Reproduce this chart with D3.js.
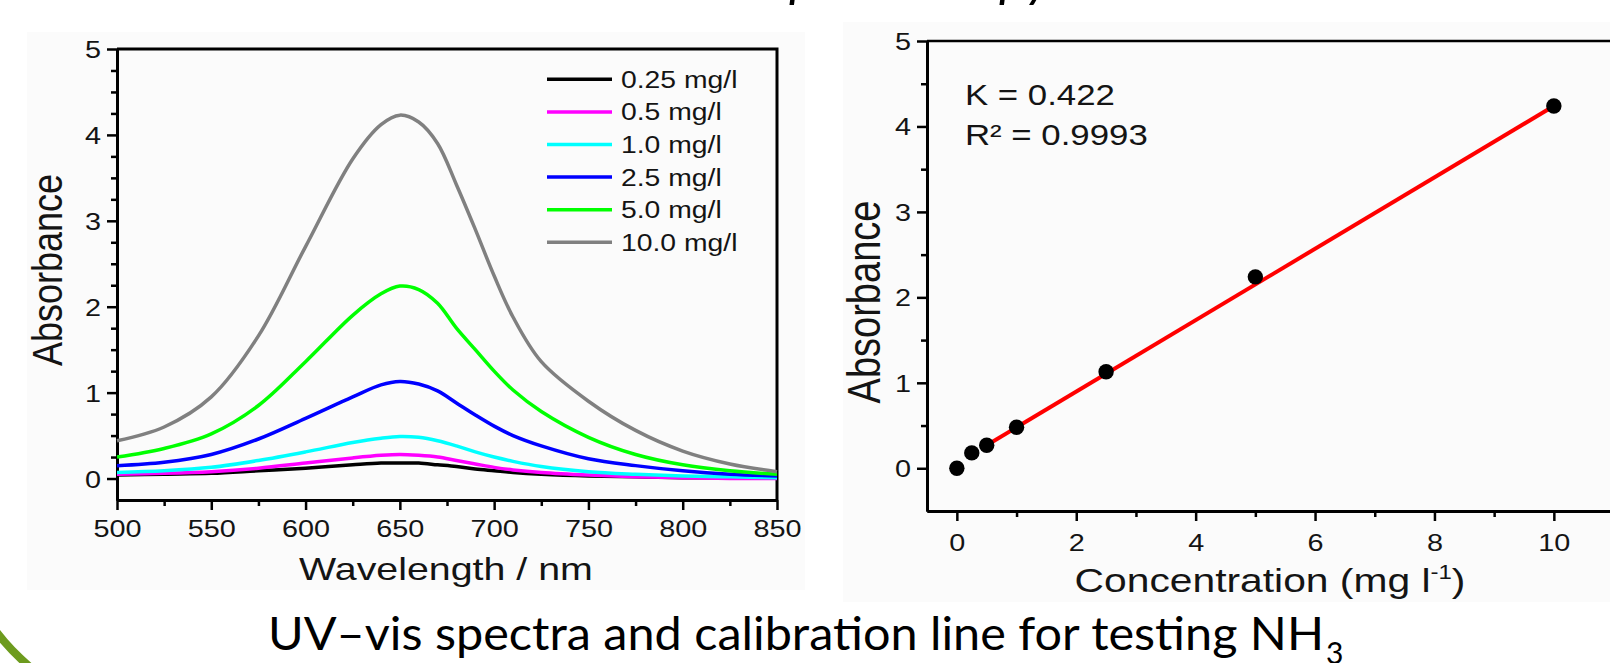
<!DOCTYPE html>
<html>
<head>
<meta charset="utf-8">
<script src="https://cdn.jsdelivr.net/npm/d3@7"></script>
<style>
  body { margin: 0; background: white; }
  svg { display: block; }
</style>
</head>
<body>
<script>
// ---- data ----
const wavelengths = [500, 525, 550, 575, 600, 625, 640, 650, 660, 670, 680, 690, 700, 710, 725, 750, 775, 800, 825, 850]
const seriesLabels = ['0.25 mg/l', '0.5 mg/l', '1.0 mg/l', '2.5 mg/l', '5.0 mg/l', '10.0 mg/l']
const abs025 = [0.04, 0.05, 0.06, 0.09, 0.12, 0.16, 0.18, 0.18, 0.18, 0.16, 0.14, 0.11, 0.09, 0.07, 0.05, 0.03, 0.02, 0.01, 0.01, 0.01]
const abs05 = [0.05, 0.06, 0.08, 0.12, 0.18, 0.24, 0.27, 0.28, 0.27, 0.25, 0.21, 0.17, 0.13, 0.10, 0.07, 0.04, 0.02, 0.01, 0.00, 0.00]
const abs10 = [0.07, 0.09, 0.13, 0.21, 0.31, 0.42, 0.47, 0.49, 0.48, 0.44, 0.38, 0.31, 0.25, 0.20, 0.14, 0.08, 0.05, 0.03, 0.02, 0.01]
const abs25 = [0.15, 0.19, 0.28, 0.46, 0.70, 0.95, 1.09, 1.13, 1.10, 1.02, 0.88, 0.74, 0.61, 0.50, 0.38, 0.23, 0.15, 0.09, 0.05, 0.03]
const abs50 = [0.25, 0.35, 0.52, 0.85, 1.36, 1.90, 2.15, 2.24, 2.20, 2.04, 1.75, 1.50, 1.25, 1.03, 0.78, 0.48, 0.28, 0.16, 0.09, 0.05]
const abs100 = [0.44, 0.60, 0.95, 1.66, 2.70, 3.72, 4.12, 4.23, 4.15, 3.90, 3.42, 2.90, 2.36, 1.88, 1.36, 0.90, 0.56, 0.32, 0.17, 0.08]

const calConc = [0, 0.25, 0.5, 1.0, 2.5, 5.0, 10.0]
const calAbs = [0, 0.18, 0.27, 0.48, 1.13, 2.24, 4.24]
const fitConc = [0.5, 10]
const fitAbs = [0.27, 4.24]
const fitK = '0.422'
const fitR2 = '0.9993'

const leftXTicks = [500, 550, 600, 650, 700, 750, 800, 850]
const leftXMinor = [525, 575, 625, 675, 725, 775, 825]
const leftYTicks = [0, 1, 2, 3, 4, 5]
const leftYMinor = [0.25, 0.5, 0.75, 1.25, 1.5, 1.75, 2.25, 2.5, 2.75, 3.25, 3.5, 3.75, 4.25, 4.5, 4.75]
const rightXTicks = [0, 2, 4, 6, 8, 10]
const rightXMinor = [1, 3, 5, 7, 9]
const rightYTicks = [0, 1, 2, 3, 4, 5]
const rightYMinor = [0.5, 1.5, 2.5, 3.5, 4.5]

// ---- styles ----
const seriesColors = ['#000000', '#ff00ff', '#00ffff', '#0000ff', '#00ff00', '#808080']
const fontFamily = "'Liberation Sans', Arial, sans-serif"
const textColor = '#141414'
const stretch = 1.2

let svgContainer = d3.select('body').append('svg')
                    .attr('width', 1610)
                    .attr('height', 663)

svgContainer.append('rect').attr('width', '100%').attr('height', '100%').attr('fill', 'white')

// faint backgrounds of the two pasted figures
svgContainer.append('rect').attr('x', 27).attr('y', 32).attr('width', 778).attr('height', 558).attr('fill', '#fbfbfb')
svgContainer.append('rect').attr('x', 843).attr('y', 22).attr('width', 767).attr('height', 580).attr('fill', '#fbfbfb')

function label(parent, x, y, str, size, anchor, sx, rot) {
    let t = parent.append('text')
                .attr('transform', `translate(${x},${y}) scale(${sx},1)` + (rot ? ` rotate(${rot})` : ''))
                .attr('text-anchor', anchor)
                .attr('font-family', fontFamily)
                .attr('font-size', size + 'px')
                .attr('fill', textColor)
    if (str !== null) t.text(str)
    return t
}

function axisPair(translate, makeAxis, scale, major, minor, labelShift) {
    let gMinor = svgContainer.append('g').attr('transform', translate)
    gMinor.call(makeAxis(scale).tickValues(minor).tickSize(6).tickSizeOuter(0).tickFormat(''))
    let gMajor = svgContainer.append('g').attr('transform', translate)
    gMajor.call(makeAxis(scale).tickValues(major).tickSize(10).tickSizeOuter(0).tickFormat(d3.format('d')))
    for (let g of [gMinor, gMajor]) {
        g.select('.domain').attr('stroke', '#000').attr('stroke-width', 3)
        g.selectAll('.tick line').attr('stroke', '#000').attr('stroke-width', 2.5)
    }
    gMajor.selectAll('.tick text')
          .attr('x', null).attr('y', null).attr('dy', null)
          .attr('transform', `translate(${labelShift[0]},${labelShift[1]}) scale(${stretch},1)`)
          .attr('text-anchor', labelShift[2])
          .attr('font-family', fontFamily)
          .attr('font-size', '24px')
          .attr('fill', textColor)
}

drawSpectra()
drawCalibration()
drawCaption()

function drawSpectra() {
    let x = d3.scaleLinear().domain([500, 850]).range([117, 777])
    let y = d3.scaleLinear().domain([-0.25, 5]).range([500, 49])

    svgContainer.append('path')
                .attr('d', `M${x(500)},${y(5)}H${x(850)}V${y(-0.25)}`)
                .attr('fill', 'none')
                .attr('stroke', '#000')
                .attr('stroke-width', 3)

    axisPair(`translate(0,${y(-0.25)})`, d3.axisBottom, x, leftXTicks, leftXMinor, [0, 37, 'middle'])
    axisPair(`translate(${x(500)},0)`, d3.axisLeft, y, leftYTicks, leftYMinor, [-16, 8.5, 'end'])

    let series = [abs025, abs05, abs10, abs25, abs50, abs100]
    let line = d3.line()
                 .x((d, i) => x(wavelengths[i]))
                 .y(d => y(d))
                 .curve(d3.curveCatmullRom.alpha(0.5))

    series.forEach((values, i) => {
        svgContainer.append('path')
                    .attr('d', line(values))
                    .attr('fill', 'none')
                    .attr('stroke', seriesColors[i])
                    .attr('stroke-width', 3.5)
    })

    // legend
    let legend = svgContainer.append('g')
    seriesLabels.forEach((name, i) => {
        let ly = 79.3 + i * 32.6
        legend.append('line')
              .attr('x1', 547).attr('x2', 612)
              .attr('y1', ly).attr('y2', ly)
              .attr('stroke', seriesColors[i])
              .attr('stroke-width', 3.5)
        label(legend, 621, ly + 8.5, name, 24, 'start', 1.18)
    })

    label(svgContainer, 446, 580, 'Wavelength / nm', 32, 'middle', 1.23)
    label(svgContainer, 62, 270, 'Absorbance', 36, 'middle', stretch, -90)
}

function drawCalibration() {
    let x = d3.scaleLinear().domain([-0.5, 11]).range([927, 927 + 11.5 * 59.7])
    let y = d3.scaleLinear().domain([-0.5, 5]).range([511, 41])

    svgContainer.append('path')
                .attr('d', `M${x(-0.5)},${y(5)}H${x(11)}V${y(-0.5)}`)
                .attr('fill', 'none')
                .attr('stroke', '#000')
                .attr('stroke-width', 2.5)

    axisPair(`translate(0,${y(-0.5)})`, d3.axisBottom, x, rightXTicks, rightXMinor, [0, 40, 'middle'])
    axisPair(`translate(${x(-0.5)},0)`, d3.axisLeft, y, rightYTicks, rightYMinor, [-16, 8.5, 'end'])

    svgContainer.append('path')
                .attr('d', d3.line().x((d, i) => x(fitConc[i])).y(d => y(d))(fitAbs))
                .attr('fill', 'none')
                .attr('stroke', '#ff0000')
                .attr('stroke-width', 4)

    svgContainer.append('g')
                .selectAll('circle')
                .data(calAbs)
                .join('circle')
                .attr('cx', (d, i) => x(calConc[i]))
                .attr('cy', d => y(d))
                .attr('r', 7.7)
                .attr('fill', '#000')

    label(svgContainer, 965, 105, 'K = ' + fitK, 29, 'start', stretch)
    label(svgContainer, 965, 145, 'R² = ' + fitR2, 29, 'start', stretch)

    let xt = label(svgContainer, 1270, 592, null, 34, 'middle', 1.2)
    xt.append('tspan').text('Concentration (mg l')
    xt.append('tspan').attr('dy', -13).attr('font-size', '20px').text('-1')
    xt.append('tspan').attr('dy', 13).text(')')

    label(svgContainer, 880, 302, 'Absorbance', 38, 'middle', stretch, -90)
}

function drawCaption() {
    svgContainer.append('text')
                .attr('x', 268)
                .attr('y', 650)
                .attr('font-family', 'Lato, sans-serif')
                .attr('font-size', '46px')
                .attr('fill', '#000')
                .attr('textLength', 1056)
                .attr('lengthAdjust', 'spacingAndGlyphs')
                .text('UV–vis spectra and calibration line for testing NH')
    svgContainer.append('text')
                .attr('x', 1326)
                .attr('y', 664)
                .attr('font-family', 'Lato, sans-serif')
                .attr('font-size', '30px')
                .attr('fill', '#000')
                .text('3')

    // cut-off italic heading at the very top
    svgContainer.append('text')
                .attr('x', 768)
                .attr('y', -3)
                .attr('font-family', 'Lato, sans-serif')
                .attr('font-style', 'italic')
                .attr('font-size', '46px')
                .attr('fill', '#000')
                .attr('textLength', 283)
                .attr('lengthAdjust', 'spacingAndGlyphs')
                .text('spectroscopy')

    // slide decoration, bottom-left corner
    svgContainer.append('path')
                .attr('d', 'M -12 620 Q 6 648 36 672')
                .attr('fill', 'none')
                .attr('stroke', '#6d9b1e')
                .attr('stroke-width', 8)
}
</script>
</body>
</html>
